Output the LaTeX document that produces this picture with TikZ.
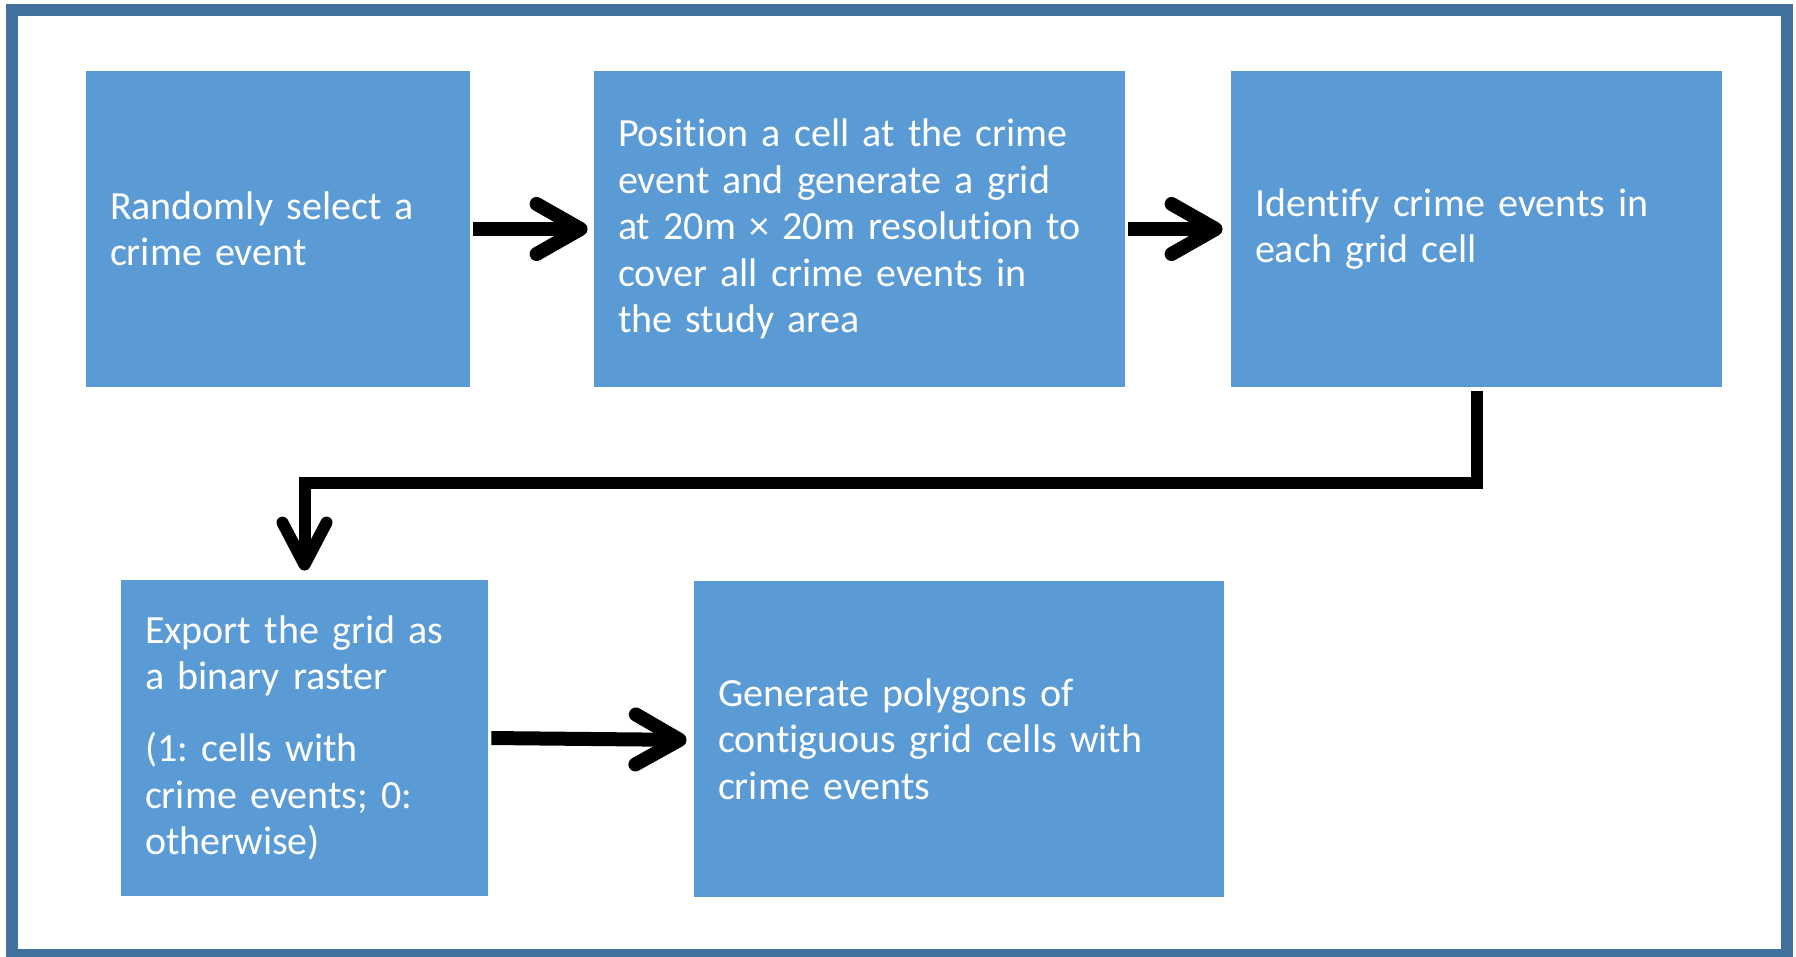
\documentclass[tikz,border=0pt]{standalone}
\usepackage{fontspec}
\setmainfont[Ligatures=NoCommon]{Carlito}
\usetikzlibrary{arrows.meta}
\definecolor{framecol}{HTML}{41719C}
\definecolor{boxblue}{HTML}{5B9BD5}
\tikzset{
  stepbox/.style={rectangle, fill=boxblue, draw=none, text=white, align=left,
    minimum height=158pt, inner xsep=12pt, inner ysep=0pt,
    font=\fontsize{20}{23.25}\selectfont\frenchspacing},
  flowarrow/.style={line width=7pt, -{Straight Barb[length=22pt,width=25pt,round]}},
  elbowarrow/.style={line width=6pt, -{Straight Barb[length=21pt,width=22pt,round]}}
}
\begin{document}
\begin{tikzpicture}[x=0.5pt,y=-0.5pt]
\useasboundingbox (0,0) rectangle (1796,957);
\fill[white] (0,0) rectangle (1796,957);
\draw[framecol, line width=6pt] (12,10) rectangle (1787,955);

\node[stepbox, text width=168pt] (b1) at (278,229) {Randomly select a\\crime event};
\node[stepbox, text width=241.5pt] (b2) at (859.5,229) {Position a cell at the crime\\event and generate a grid\\at 20m × 20m resolution to\\cover all crime events in\\the study area};
\node[stepbox, text width=221.5pt] (b3) at (1476.5,229) {Identify crime events in\\each grid cell};
\node[stepbox, text width=159.5pt] (b4) at (304.5,738) {Export the grid as\\a binary raster\\[12.75pt](1: cells with\\crime events; 0:\\otherwise)};
\node[stepbox, text width=241pt] (b5) at (959,739) {Generate polygons of\\contiguous grid cells with\\crime events};

\draw[flowarrow, shorten <=1.5pt, shorten >=3pt] (b1.east) -- (b2.west);
\draw[flowarrow, shorten <=1.5pt, shorten >=4pt] (b2.east) -- (b3.west);
\coordinate (turn) at (1476.5,483.5);
\draw[elbowarrow, shorten <=2pt, shorten >=4.5pt] (b3.south) -- (turn) -| (b4.north);
\draw[flowarrow, shorten <=1.5pt, shorten >=3.5pt] (b4.east) -- ([yshift=-0.5pt]b5.west);
\end{tikzpicture}
\end{document}
